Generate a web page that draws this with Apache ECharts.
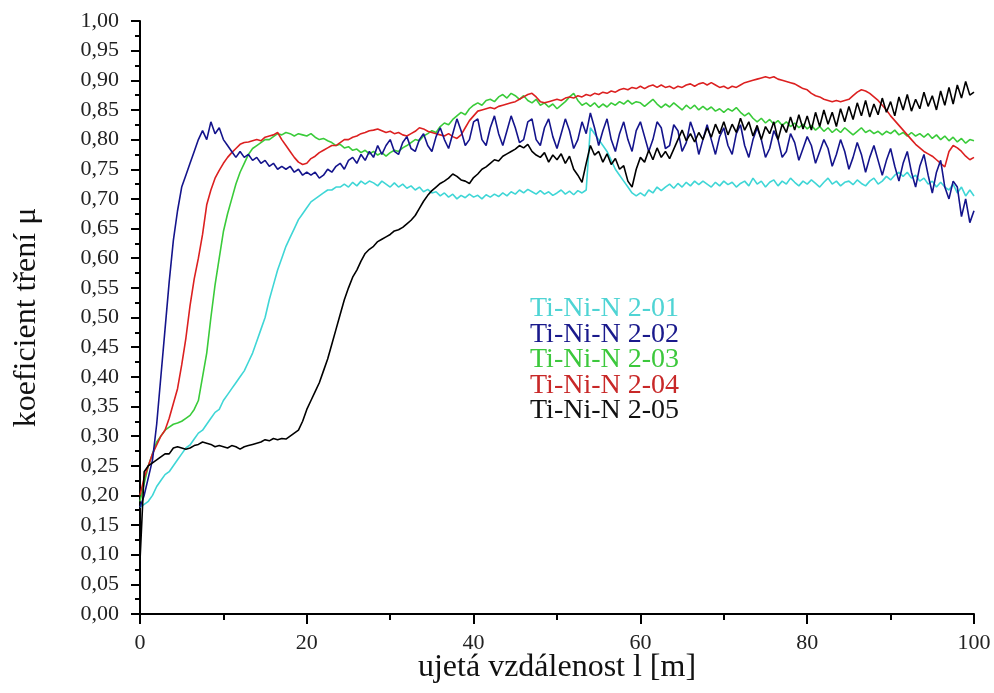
<!DOCTYPE html>
<html>
<head>
<meta charset="utf-8">
<script src="https://cdn.jsdelivr.net/npm/echarts@6/dist/echarts.min.js"></script>
<style>
  html, body { margin: 0; padding: 0; background: #fff; }
  #chart { width: 994px; height: 693px; }
</style>
</head>
<body>
<div id="chart"></div>
<script>
// sampling step of the distance axis [m]
var step = 0.5;

var names = ['Ti-Ni-N 2-01', 'Ti-Ni-N 2-02', 'Ti-Ni-N 2-03', 'Ti-Ni-N 2-04', 'Ti-Ni-N 2-05'];
var yTicks = [0, 1];

// friction coefficient, one value every 0.5 m from 0 to 100 m
var c01 = [
  0.18,0.185,0.19,0.2,0.215,0.225,0.235,0.24,0.25,0.26,
  0.27,0.28,0.285,0.295,0.305,0.31,0.32,0.33,0.34,0.345,
  0.36,0.37,0.38,0.39,0.4,0.41,0.425,0.44,0.46,0.48,
  0.5,0.53,0.555,0.58,0.6,0.62,0.635,0.65,0.665,0.675,
  0.685,0.695,0.7,0.705,0.71,0.715,0.715,0.72,0.72,0.725,
  0.72,0.728,0.722,0.73,0.725,0.73,0.727,0.722,0.73,0.725,
  0.72,0.727,0.72,0.725,0.718,0.722,0.715,0.72,0.712,0.716,
  0.71,0.712,0.705,0.71,0.703,0.708,0.7,0.706,0.702,0.708,
  0.703,0.706,0.7,0.707,0.703,0.708,0.704,0.71,0.705,0.712,
  0.708,0.715,0.71,0.716,0.712,0.708,0.714,0.708,0.712,0.706,
  0.71,0.715,0.708,0.713,0.707,0.714,0.71,0.715,0.82,0.81,
  0.8,0.79,0.78,0.765,0.75,0.74,0.73,0.72,0.71,0.705,
  0.71,0.705,0.715,0.71,0.72,0.714,0.72,0.725,0.718,0.726,
  0.72,0.728,0.722,0.73,0.724,0.73,0.725,0.72,0.728,0.722,
  0.73,0.724,0.728,0.72,0.726,0.73,0.722,0.735,0.725,0.73,
  0.72,0.728,0.732,0.722,0.73,0.725,0.735,0.728,0.722,0.73,
  0.725,0.732,0.726,0.72,0.728,0.735,0.725,0.73,0.722,0.728,
  0.73,0.724,0.732,0.726,0.722,0.73,0.735,0.725,0.73,0.738,
  0.732,0.74,0.745,0.738,0.745,0.735,0.74,0.73,0.735,0.725,
  0.73,0.72,0.728,0.72,0.715,0.725,0.71,0.72,0.705,0.715,
  0.705
];
var b02 = [
  0.18,0.2,0.23,0.26,0.32,0.4,0.48,0.56,0.63,0.68,
  0.72,0.74,0.76,0.78,0.8,0.815,0.8,0.83,0.81,0.82,
  0.8,0.79,0.78,0.77,0.78,0.77,0.775,0.765,0.77,0.76,
  0.765,0.755,0.76,0.75,0.755,0.75,0.755,0.745,0.75,0.74,
  0.745,0.74,0.745,0.735,0.74,0.75,0.745,0.755,0.76,0.75,
  0.765,0.77,0.76,0.775,0.765,0.78,0.77,0.79,0.775,0.79,
  0.8,0.78,0.775,0.795,0.805,0.785,0.78,0.8,0.81,0.79,
  0.78,0.805,0.82,0.8,0.785,0.81,0.835,0.815,0.79,0.8,
  0.83,0.835,0.8,0.79,0.82,0.84,0.81,0.79,0.815,0.84,
  0.82,0.795,0.8,0.83,0.835,0.8,0.79,0.82,0.835,0.805,
  0.785,0.81,0.835,0.815,0.785,0.8,0.83,0.81,0.845,0.82,
  0.79,0.815,0.835,0.8,0.78,0.81,0.83,0.8,0.78,0.815,
  0.83,0.805,0.78,0.8,0.83,0.82,0.785,0.79,0.825,0.815,
  0.78,0.795,0.83,0.81,0.775,0.8,0.825,0.8,0.775,0.805,
  0.82,0.79,0.775,0.81,0.825,0.79,0.77,0.8,0.82,0.8,
  0.77,0.785,0.815,0.8,0.77,0.78,0.81,0.795,0.765,0.785,
  0.805,0.79,0.76,0.78,0.8,0.785,0.755,0.775,0.8,0.78,
  0.75,0.77,0.795,0.775,0.745,0.77,0.79,0.765,0.74,0.765,
  0.785,0.755,0.73,0.76,0.78,0.745,0.72,0.755,0.775,0.74,
  0.71,0.745,0.765,0.72,0.7,0.73,0.72,0.67,0.7,0.66,
  0.68
];
var g03 = [
  0.19,0.22,0.25,0.27,0.29,0.3,0.31,0.315,0.32,0.322,
  0.325,0.33,0.335,0.345,0.36,0.4,0.44,0.5,0.555,0.6,
  0.645,0.675,0.7,0.725,0.745,0.76,0.775,0.785,0.79,0.795,
  0.8,0.8,0.805,0.81,0.808,0.812,0.81,0.806,0.81,0.808,
  0.806,0.81,0.804,0.8,0.802,0.798,0.795,0.79,0.792,0.786,
  0.788,0.782,0.784,0.778,0.782,0.776,0.78,0.774,0.778,0.772,
  0.778,0.782,0.78,0.786,0.79,0.795,0.8,0.798,0.806,0.81,
  0.815,0.812,0.822,0.828,0.825,0.834,0.84,0.846,0.842,0.852,
  0.858,0.862,0.858,0.866,0.868,0.864,0.872,0.876,0.87,0.878,
  0.874,0.868,0.874,0.866,0.862,0.868,0.858,0.862,0.855,0.86,
  0.852,0.858,0.864,0.872,0.878,0.866,0.858,0.862,0.856,0.862,
  0.854,0.86,0.855,0.862,0.858,0.864,0.86,0.866,0.86,0.864,
  0.862,0.856,0.862,0.868,0.86,0.854,0.86,0.855,0.862,0.856,
  0.85,0.858,0.852,0.858,0.85,0.856,0.85,0.855,0.848,0.852,
  0.846,0.852,0.848,0.854,0.846,0.84,0.845,0.836,0.83,0.836,
  0.828,0.834,0.826,0.832,0.824,0.83,0.822,0.828,0.82,0.826,
  0.818,0.824,0.816,0.822,0.814,0.82,0.812,0.818,0.812,0.82,
  0.814,0.808,0.814,0.82,0.812,0.816,0.81,0.814,0.808,0.814,
  0.81,0.816,0.808,0.812,0.806,0.812,0.806,0.81,0.804,0.81,
  0.802,0.808,0.8,0.806,0.798,0.804,0.796,0.802,0.794,0.8,
  0.798
];
var r04 = [
  0.2,0.23,0.25,0.27,0.285,0.3,0.31,0.33,0.355,0.38,
  0.42,0.465,0.52,0.565,0.6,0.64,0.69,0.715,0.735,0.748,
  0.76,0.77,0.778,0.785,0.792,0.795,0.796,0.798,0.8,0.798,
  0.804,0.806,0.808,0.812,0.8,0.79,0.78,0.77,0.762,0.758,
  0.76,0.768,0.772,0.778,0.782,0.786,0.79,0.79,0.795,0.8,
  0.8,0.804,0.806,0.81,0.812,0.815,0.816,0.818,0.815,0.812,
  0.814,0.81,0.812,0.808,0.806,0.81,0.814,0.82,0.818,0.814,
  0.812,0.81,0.808,0.806,0.81,0.805,0.802,0.808,0.82,0.832,
  0.84,0.848,0.85,0.852,0.854,0.852,0.856,0.858,0.86,0.862,
  0.864,0.868,0.872,0.876,0.878,0.872,0.864,0.862,0.864,0.866,
  0.868,0.866,0.87,0.872,0.87,0.874,0.872,0.876,0.874,0.878,
  0.876,0.88,0.878,0.882,0.88,0.884,0.886,0.884,0.888,0.886,
  0.89,0.886,0.89,0.892,0.888,0.892,0.888,0.89,0.886,0.89,
  0.888,0.892,0.894,0.89,0.894,0.896,0.892,0.896,0.892,0.888,
  0.89,0.886,0.89,0.888,0.892,0.896,0.898,0.9,0.902,0.904,
  0.906,0.904,0.906,0.902,0.9,0.898,0.896,0.894,0.89,0.886,
  0.884,0.878,0.874,0.872,0.868,0.866,0.864,0.866,0.864,0.866,
  0.868,0.874,0.88,0.884,0.882,0.878,0.872,0.866,0.858,0.85,
  0.84,0.832,0.824,0.816,0.808,0.8,0.792,0.786,0.78,0.776,
  0.772,0.766,0.76,0.754,0.78,0.79,0.786,0.78,0.772,0.766,
  0.77
];
var k05 = [
  0.09,0.24,0.25,0.255,0.26,0.265,0.27,0.27,0.28,0.282,
  0.28,0.278,0.28,0.284,0.286,0.29,0.288,0.286,0.282,0.284,
  0.282,0.28,0.284,0.282,0.278,0.282,0.284,0.286,0.288,0.29,
  0.294,0.292,0.296,0.294,0.296,0.295,0.3,0.305,0.31,0.325,
  0.345,0.36,0.375,0.39,0.41,0.43,0.455,0.48,0.505,0.53,
  0.55,0.568,0.58,0.595,0.608,0.615,0.62,0.628,0.632,0.636,
  0.64,0.646,0.648,0.652,0.658,0.664,0.672,0.684,0.696,0.706,
  0.714,0.72,0.726,0.73,0.735,0.742,0.738,0.732,0.73,0.726,
  0.736,0.742,0.75,0.754,0.76,0.766,0.764,0.772,0.776,0.78,
  0.784,0.79,0.786,0.792,0.78,0.774,0.77,0.778,0.762,0.774,
  0.766,0.776,0.76,0.772,0.75,0.74,0.728,0.76,0.79,0.774,
  0.78,0.762,0.776,0.758,0.768,0.75,0.756,0.73,0.72,0.75,
  0.77,0.762,0.782,0.766,0.786,0.77,0.78,0.768,0.784,0.8,
  0.816,0.798,0.81,0.796,0.812,0.8,0.82,0.804,0.826,0.81,
  0.83,0.808,0.826,0.812,0.836,0.816,0.83,0.806,0.824,0.8,
  0.822,0.81,0.83,0.8,0.826,0.812,0.838,0.816,0.842,0.818,
  0.84,0.816,0.846,0.822,0.85,0.826,0.846,0.822,0.852,0.83,
  0.856,0.834,0.862,0.84,0.866,0.838,0.86,0.842,0.87,0.846,
  0.864,0.84,0.872,0.85,0.876,0.848,0.868,0.852,0.88,0.856,
  0.874,0.85,0.882,0.858,0.888,0.86,0.892,0.87,0.898,0.875,
  0.88
];

var lineColors = ['#3fd6d6', '#14148c', '#3acb3a', '#dc2020', '#000000'];
var textColors = ['#4fd4d4', '#1a1a8c', '#3cc83c', '#c82828', '#111111'];
var font = '"Liberation Serif", "Times New Roman", serif';

function pairs(vals) {
  return vals.map(function (v, i) { return [i * step, v]; });
}

var chart = echarts.init(document.getElementById('chart'));

var seriesVals = [c01, b02, g03, r04, k05];
// draw order: cyan, green, red, blue, black
var order = [0, 2, 3, 1, 4];

var option = {
  backgroundColor: '#fff',
  animation: false,
  grid: { left: 140, right: 20, top: 21, bottom: 79, containLabel: false, outerBoundsMode: 'none' },
  legend: {
    orient: 'vertical',
    left: 520,
    top: 290,
    itemWidth: 0,
    itemHeight: 0,
    itemGap: -2.5,
    selectedMode: false,
    textStyle: { fontFamily: font, fontSize: 28 },
    data: names.map(function (n, i) {
      return { name: n, icon: 'none', textStyle: { color: textColors[i] } };
    })
  },
  xAxis: {
    type: 'value',
    min: 0,
    max: 100,
    interval: 20,
    name: 'ujetá vzdálenost l [m]',
    nameLocation: 'middle',
    nameGap: 38,
    nameMoveOverlap: false,
    nameTextStyle: { fontFamily: font, fontSize: 32, color: '#111' },
    axisLine: { lineStyle: { color: '#000', width: 2 } },
    axisTick: { length: 10, lineStyle: { color: '#000', width: 2 } },
    minorTick: { show: true, splitNumber: 2, length: 6, lineStyle: { color: '#000', width: 2 } },
    splitLine: { show: false },
    axisLabel: { fontFamily: font, fontSize: 22, color: '#222', margin: 18 }
  },
  yAxis: {
    type: 'value',
    min: yTicks[0],
    max: yTicks[1],
    interval: 0.05,
    name: 'koeficient tření μ',
    nameLocation: 'middle',
    nameGap: 97,
    nameTextStyle: { fontFamily: font, fontSize: 32, color: '#111' },
    axisLine: { show: true, lineStyle: { color: '#000', width: 2 } },
    axisTick: { show: true, length: 9, lineStyle: { color: '#000', width: 2 } },
    minorTick: { show: true, splitNumber: 2, length: 5, lineStyle: { color: '#000', width: 2 } },
    splitLine: { show: false },
    axisLabel: {
      fontFamily: font, fontSize: 22, color: '#222', margin: 21,
      formatter: function (v) { return v.toFixed(2).replace('.', ','); }
    }
  },
  series: order.map(function (i) {
    return {
      name: names[i],
      type: 'line',
      data: pairs(seriesVals[i]),
      showSymbol: false,
      symbol: 'none',
      color: lineColors[i],
      lineStyle: { color: lineColors[i], width: 1.6 }
    };
  })
};

chart.setOption(option);
</script>
</body>
</html>
